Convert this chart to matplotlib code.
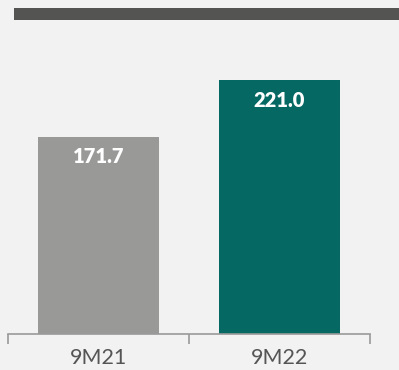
import numpy as np
import matplotlib
matplotlib.use("Agg")
from matplotlib import pyplot as plt
from matplotlib.patches import Rectangle

# datos
periodos = ["9M21", "9M22"]
valores = [171.7, 221.0]
etiquetas = ["171.7", "221.0"]
colores = ["#999998", "#066863"]

W, H = 399, 370
fig = plt.figure(figsize=(W / 100, H / 100), dpi=100, facecolor="#f2f2f2")

# barra gris superior
fig.add_artist(Rectangle((14 / W, 1 - 20 / H), 1 - 14 / W, 12 / H,
                         transform=fig.transFigure, color="#545452", lw=0))

# ejes: base en y=334 px, de x=8 a x=370
ax = fig.add_axes([8 / W, 1 - 334 / H, 362 / W, 304 / H])
ax.set_facecolor("#f2f2f2")
x = np.arange(len(periodos))
ax.bar(x, valores, width=0.67, color=colores)
ax.set_xlim(-0.5, 1.5)
ax.set_ylim(0, 304 / 1.148)

for xi, v, t in zip(x, valores, etiquetas):
    ax.annotate(t, (xi, v), xytext=(0, -20), textcoords="offset pixels",
                ha="center", va="center", color="white", fontsize=14.5,
                fontweight="heavy", family="Lato")

for s in ["top", "right", "left"]:
    ax.spines[s].set_visible(False)
ax.spines["bottom"].set_color("#9a9a9a")
ax.spines["bottom"].set_linewidth(1.2)
ax.set_yticks([])
ax.set_xticks(x)
ax.set_xticklabels(periodos, fontsize=15.5, color="#555555", family="Lato")
ax.tick_params(axis="x", which="major", length=0, pad=10)
ax.set_xticks([-0.5, 0.5, 1.5], minor=True)
ax.tick_params(axis="x", which="minor", length=7, color="#9a9a9a", width=1.2)

fig.savefig("out.png", dpi=100, facecolor=fig.get_facecolor())
